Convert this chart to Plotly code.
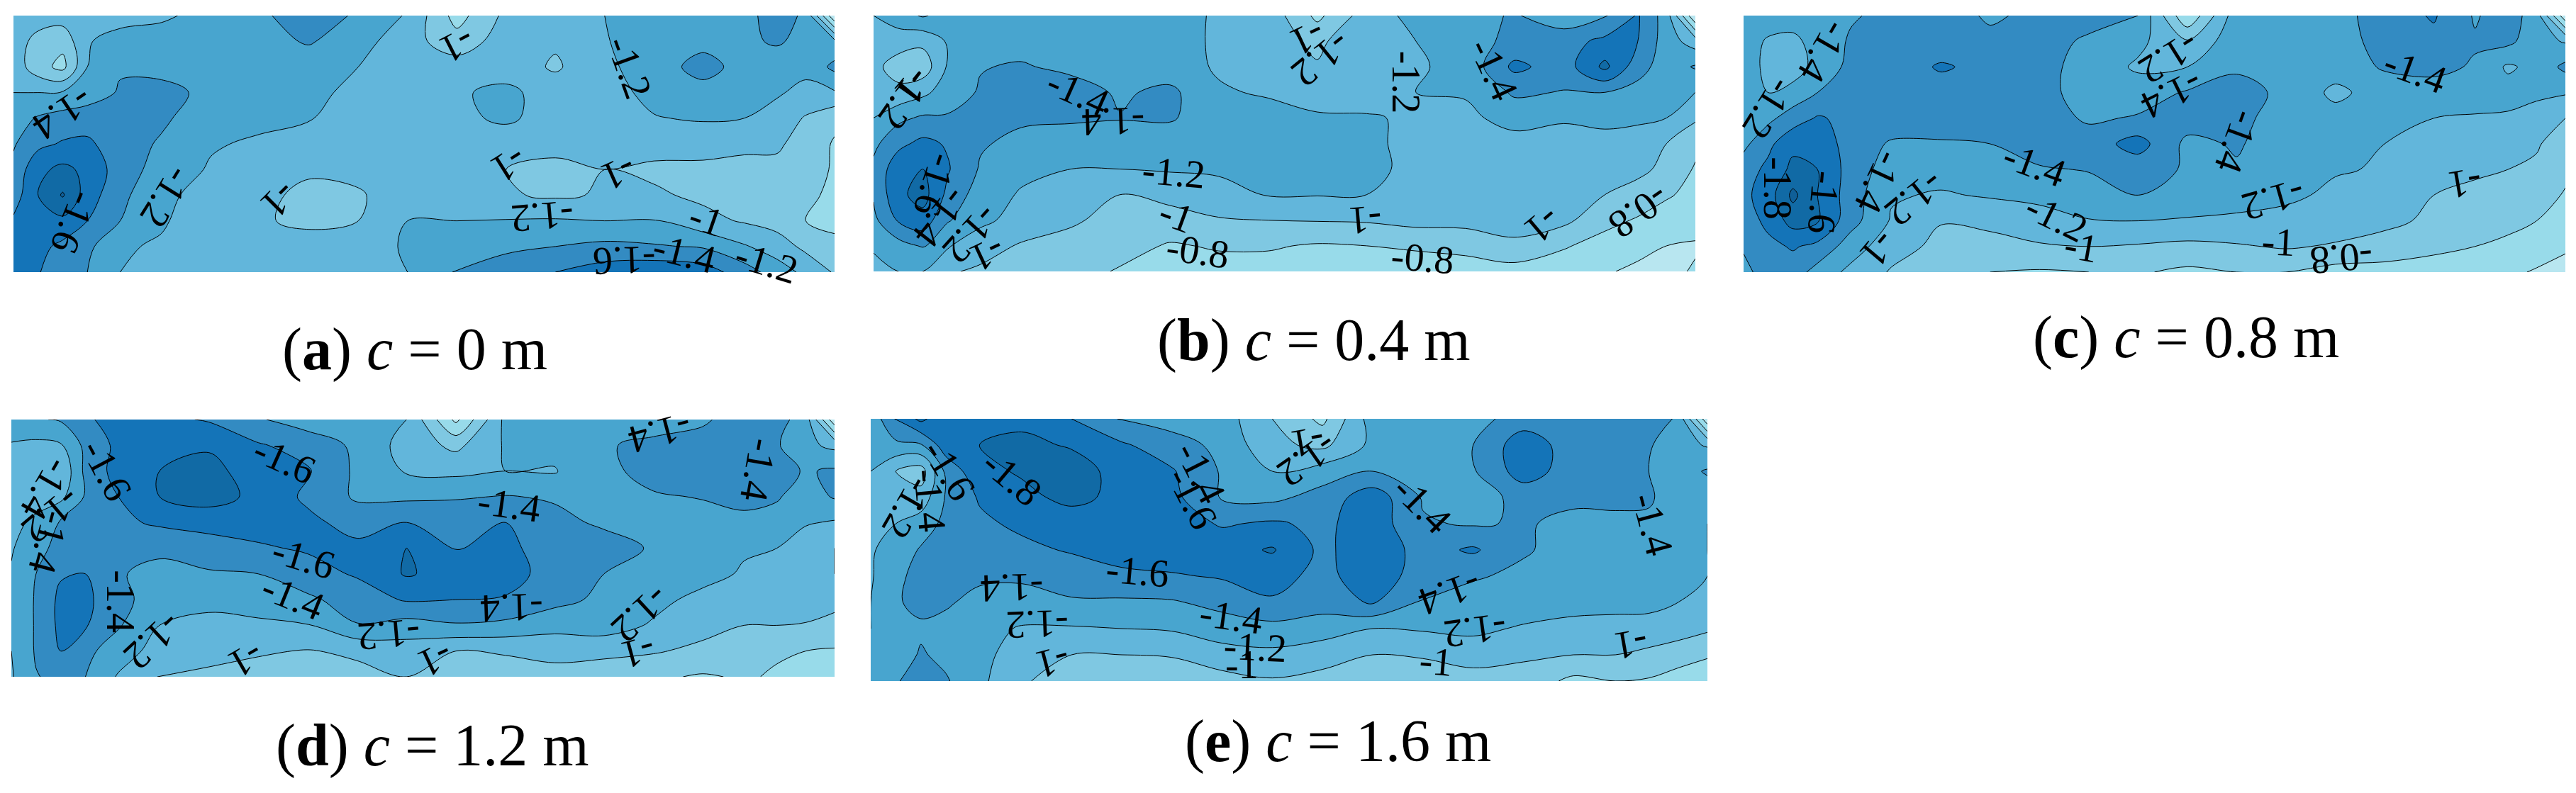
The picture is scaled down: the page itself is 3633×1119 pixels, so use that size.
import plotly.graph_objects as go

WIDTH, HEIGHT = 3633, 1119
X_GRID = [0, 3, 6, 9, 13, 18, 24, 30, 36, 42, 48, 54, 60, 66, 72, 78, 84, 89, 93, 96.5, 100]
Y_GRID = [0, 10, 20, 30, 40, 50, 60, 70, 80, 90, 100]

Z_A = [
 [-1.15,-1.12,-1.1,-1.12,-1.15,-1.17,-1.26,-1.35,-1.55,-1.36,-1.18,-0.72,-1.05,-1.12,-1.2,-1.26,-1.3,-1.33,-1.5,-1.36,-0.42],
 [-1.12,-0.92,-0.86,-1.19,-1.25,-1.28,-1.3,-1.33,-1.42,-1.28,-1.08,-0.88,-1.1,-1.03,-1.19,-1.28,-1.32,-1.34,-1.44,-1.3,-1.25],
 [-1.12,-0.88,-0.74,-1.2,-1.38,-1.35,-1.33,-1.3,-1.28,-1.2,-1.02,-1.1,-1.12,-0.97,-1.17,-1.27,-1.5,-1.3,-1.22,-1.25,-1.45],
 [-1.2,-1.2,-1.22,-1.3,-1.42,-1.45,-1.36,-1.28,-1.22,-1.18,-1.15,-1.18,-1.24,-1.12,-1.13,-1.25,-1.3,-1.3,-1.22,-1.15,-1.18],
 [-1.3,-1.42,-1.48,-1.5,-1.48,-1.43,-1.3,-1.25,-1.21,-1.13,-1.1,-1.15,-1.24,-1.1,-1.08,-1.19,-1.22,-1.2,-1.13,-0.98,-0.85],
 [-1.38,-1.55,-1.62,-1.64,-1.48,-1.38,-1.22,-1.17,-1.12,-1.08,-1.08,-1.08,-1.07,-1.06,-1.07,-1.08,-1.07,-1.03,-1.03,-0.92,-0.78],
 [-1.45,-1.75,-1.85,-1.75,-1.5,-1.32,-1.18,-1.1,-1.03,-1.05,-1.1,-1.09,-1.0,-0.95,-1.0,-0.96,-0.96,-0.96,-0.95,-0.88,-0.78],
 [-1.5,-1.8,-2.02,-1.7,-1.45,-1.25,-1.12,-1.05,-0.95,-0.98,-1.1,-1.1,-1.02,-0.97,-1.02,-1.03,-0.96,-0.93,-0.9,-0.82,-0.78],
 [-1.63,-1.75,-1.75,-1.6,-1.4,-1.22,-1.1,-1.02,-0.96,-1.0,-1.2,-1.2,-1.21,-1.22,-1.2,-1.21,-1.06,-0.98,-0.92,-0.8,-0.75],
 [-1.6,-1.66,-1.55,-1.45,-1.22,-1.18,-1.1,-1.03,-1.08,-1.12,-1.22,-1.25,-1.38,-1.4,-1.45,-1.42,-1.38,-1.22,-1.1,-0.95,-0.85],
 [-1.62,-1.62,-1.42,-1.4,-1.2,-1.19,-1.12,-1.12,-1.2,-1.16,-1.2,-1.42,-1.45,-1.6,-1.7,-1.75,-1.7,-1.5,-1.3,-1.15,-0.98],
]
Z_B = [
 [-1.2,-1.32,-1.42,-1.33,-1.3,-1.3,-1.3,-1.28,-1.26,-1.18,-1.13,-0.75,-1.1,-1.26,-1.33,-1.42,-1.27,-1.38,-1.62,-1.3,-0.4],
 [-1.1,-1.08,-1.05,-1.22,-1.3,-1.32,-1.32,-1.3,-1.28,-1.17,-1.1,-0.95,-1.18,-1.2,-1.32,-1.45,-1.52,-1.65,-1.6,-1.3,-1.1],
 [-1.05,-0.92,-0.88,-1.22,-1.39,-1.42,-1.35,-1.3,-1.28,-1.18,-1.02,-1.02,-1.14,-1.18,-1.25,-1.65,-1.5,-1.85,-1.48,-1.3,-1.42],
 [-1.08,-1.05,-1.15,-1.3,-1.42,-1.48,-1.5,-1.37,-1.45,-1.22,-1.18,-1.1,-1.1,-1.2,-1.22,-1.43,-1.39,-1.4,-1.33,-1.25,-1.2],
 [-1.2,-1.35,-1.43,-1.42,-1.42,-1.43,-1.42,-1.41,-1.42,-1.3,-1.27,-1.23,-1.22,-1.17,-1.15,-1.28,-1.22,-1.27,-1.25,-1.2,-1.03],
 [-1.35,-1.55,-1.65,-1.58,-1.42,-1.35,-1.33,-1.3,-1.3,-1.3,-1.28,-1.28,-1.26,-1.12,-1.12,-1.12,-1.13,-1.11,-1.07,-1.0,-0.85],
 [-1.45,-1.72,-1.8,-1.62,-1.38,-1.25,-1.2,-1.2,-1.22,-1.22,-1.3,-1.3,-1.28,-1.12,-1.1,-1.1,-1.08,-1.08,-1.05,-0.95,-0.78],
 [-1.42,-1.75,-1.88,-1.55,-1.3,-1.18,-1.1,-1.0,-1.05,-1.15,-1.21,-1.21,-1.2,-1.12,-1.09,-1.09,-1.05,-1.0,-0.92,-0.82,-0.75],
 [-1.35,-1.62,-1.72,-1.42,-1.25,-1.12,-1.02,-0.95,-0.93,-0.98,-1.0,-1.01,-1.02,-1.07,-1.07,-1.1,-1.05,-0.86,-0.78,-0.72,-0.68],
 [-1.22,-1.32,-1.42,-1.22,-1.08,-0.98,-0.95,-0.88,-0.78,-0.82,-0.82,-0.78,-0.8,-0.82,-0.85,-0.95,-0.82,-0.72,-0.66,-0.6,-0.58],
 [-1.15,-1.2,-1.2,-1.02,-0.97,-0.92,-0.88,-0.78,-0.72,-0.72,-0.72,-0.72,-0.72,-0.72,-0.72,-0.72,-0.68,-0.62,-0.56,-0.55,-0.62],
]
Z_C = [
 [-1.28,-1.29,-1.3,-1.33,-1.38,-1.45,-1.5,-1.37,-1.45,-1.45,-1.4,-0.62,-1.32,-1.3,-1.32,-1.5,-1.62,-1.38,-1.5,-1.3,-0.45],
 [-1.28,-1.18,-1.15,-1.28,-1.42,-1.45,-1.5,-1.45,-1.45,-1.38,-1.25,-1.02,-1.33,-1.36,-1.3,-1.48,-1.55,-1.42,-1.45,-1.28,-1.18],
 [-1.26,-1.17,-1.1,-1.27,-1.45,-1.5,-1.62,-1.55,-1.47,-1.32,-1.17,-1.2,-1.38,-1.4,-1.3,-1.42,-1.45,-1.38,-1.17,-1.26,-1.45],
 [-1.25,-1.2,-1.27,-1.4,-1.48,-1.5,-1.52,-1.5,-1.48,-1.3,-1.3,-1.42,-1.45,-1.37,-1.15,-1.3,-1.32,-1.3,-1.28,-1.25,-1.22],
 [-1.22,-1.35,-1.5,-1.62,-1.55,-1.5,-1.5,-1.5,-1.5,-1.37,-1.42,-1.5,-1.45,-1.32,-1.28,-1.28,-1.2,-1.18,-1.17,-1.1,-1.0],
 [-1.35,-1.55,-1.75,-1.75,-1.5,-1.38,-1.38,-1.4,-1.5,-1.5,-1.68,-1.35,-1.42,-1.3,-1.28,-1.2,-1.12,-1.1,-1.1,-1.03,-0.85],
 [-1.5,-1.65,-1.85,-1.8,-1.52,-1.3,-1.28,-1.3,-1.38,-1.41,-1.48,-1.38,-1.38,-1.28,-1.22,-1.18,-1.08,-1.02,-1.0,-0.95,-0.85],
 [-1.55,-1.7,-2.05,-1.8,-1.5,-1.22,-1.18,-1.22,-1.25,-1.32,-1.4,-1.33,-1.29,-1.25,-1.15,-1.12,-1.0,-0.97,-0.95,-0.9,-0.78],
 [-1.5,-1.65,-1.88,-1.82,-1.48,-1.18,-1.01,-1.05,-1.12,-1.19,-1.2,-1.18,-1.16,-1.12,-1.1,-1.05,-0.96,-0.92,-0.85,-0.8,-0.72],
 [-1.42,-1.55,-1.62,-1.55,-1.3,-1.08,-0.95,-0.93,-0.98,-1.0,-0.98,-0.95,-0.98,-1.02,-0.98,-0.92,-0.85,-0.8,-0.76,-0.7,-0.62],
 [-1.35,-1.48,-1.5,-1.32,-1.15,-0.98,-0.9,-0.8,-0.78,-0.8,-0.82,-0.76,-0.8,-0.8,-0.72,-0.72,-0.7,-0.68,-0.64,-0.58,-0.55],
]
Z_D = [
 [-1.35,-1.38,-1.42,-1.58,-1.65,-1.65,-1.58,-1.42,-1.3,-1.38,-1.2,-0.55,-1.25,-1.33,-1.33,-1.3,-1.37,-1.5,-1.48,-1.3,-0.45],
 [-1.18,-1.15,-1.18,-1.45,-1.65,-1.75,-1.78,-1.62,-1.52,-1.36,-1.12,-0.95,-1.22,-1.3,-1.38,-1.45,-1.48,-1.48,-1.42,-1.25,-1.15],
 [-1.15,-1.05,-1.02,-1.45,-1.68,-1.8,-1.85,-1.72,-1.62,-1.36,-1.18,-1.15,-1.2,-1.18,-1.35,-1.47,-1.5,-1.5,-1.48,-1.38,-1.43],
 [-1.05,-1.1,-1.15,-1.42,-1.6,-1.8,-1.88,-1.75,-1.56,-1.37,-1.36,-1.38,-1.41,-1.38,-1.32,-1.38,-1.41,-1.48,-1.42,-1.3,-1.42],
 [-1.13,-1.25,-1.42,-1.45,-1.56,-1.63,-1.68,-1.67,-1.65,-1.52,-1.6,-1.55,-1.6,-1.45,-1.37,-1.38,-1.33,-1.33,-1.32,-1.22,-1.18],
 [-1.18,-1.35,-1.45,-1.45,-1.43,-1.45,-1.5,-1.58,-1.62,-1.65,-1.8,-1.59,-1.65,-1.5,-1.48,-1.38,-1.3,-1.22,-1.2,-1.08,-1.0],
 [-1.22,-1.4,-1.58,-1.6,-1.42,-1.33,-1.38,-1.4,-1.53,-1.62,-1.82,-1.72,-1.7,-1.5,-1.4,-1.33,-1.26,-1.18,-1.14,-1.1,-1.0],
 [-1.22,-1.42,-1.65,-1.65,-1.45,-1.32,-1.25,-1.3,-1.36,-1.5,-1.62,-1.6,-1.58,-1.47,-1.35,-1.25,-1.15,-1.12,-1.1,-1.08,-1.05],
 [-1.22,-1.42,-1.65,-1.62,-1.42,-1.2,-1.15,-1.16,-1.19,-1.39,-1.32,-1.38,-1.35,-1.25,-1.28,-1.18,-1.07,-1.0,-1.0,-0.99,-0.95],
 [-1.2,-1.42,-1.6,-1.45,-1.3,-1.12,-1.08,-1.02,-0.99,-1.03,-1.1,-1.0,-1.02,-1.1,-1.08,-1.02,-0.95,-0.93,-0.82,-0.8,-0.78],
 [-1.18,-1.39,-1.45,-1.4,-1.18,-0.99,-0.95,-0.93,-0.92,-0.95,-1.0,-0.92,-0.9,-0.88,-0.82,-0.83,-0.78,-0.82,-0.78,-0.72,-0.65],
]
Z_E = [
 [-1.25,-1.62,-1.85,-1.65,-1.78,-1.75,-1.6,-1.38,-1.32,-1.3,-1.0,-0.75,-1.3,-1.38,-1.32,-1.5,-1.45,-1.47,-1.6,-1.35,-0.45],
 [-1.3,-1.35,-1.38,-1.72,-1.8,-1.85,-1.78,-1.63,-1.48,-1.35,-1.05,-0.95,-1.25,-1.3,-1.4,-1.72,-1.5,-1.45,-1.42,-1.28,-1.18],
 [-1.2,-1.0,-0.9,-1.45,-1.75,-1.82,-1.9,-1.72,-1.62,-1.38,-1.2,-1.3,-1.4,-1.3,-1.38,-1.7,-1.5,-1.47,-1.4,-1.32,-1.42],
 [-1.15,-1.08,-1.08,-1.42,-1.62,-1.75,-1.85,-1.75,-1.66,-1.38,-1.35,-1.48,-1.72,-1.38,-1.3,-1.47,-1.44,-1.47,-1.42,-1.32,-1.3],
 [-1.15,-1.2,-1.3,-1.45,-1.56,-1.64,-1.7,-1.72,-1.7,-1.58,-1.63,-1.55,-1.72,-1.42,-1.38,-1.42,-1.35,-1.33,-1.37,-1.32,-1.2],
 [-1.18,-1.28,-1.42,-1.45,-1.48,-1.55,-1.62,-1.7,-1.72,-1.72,-1.82,-1.55,-1.74,-1.52,-1.63,-1.42,-1.33,-1.32,-1.38,-1.3,-1.2],
 [-1.18,-1.35,-1.47,-1.45,-1.43,-1.42,-1.48,-1.55,-1.58,-1.62,-1.66,-1.55,-1.7,-1.52,-1.42,-1.36,-1.3,-1.38,-1.38,-1.3,-1.2],
 [-1.2,-1.38,-1.45,-1.42,-1.35,-1.35,-1.38,-1.37,-1.38,-1.46,-1.58,-1.5,-1.62,-1.38,-1.32,-1.3,-1.28,-1.26,-1.25,-1.2,-1.12],
 [-1.2,-1.25,-1.37,-1.35,-1.28,-1.18,-1.18,-1.2,-1.22,-1.3,-1.33,-1.28,-1.2,-1.22,-1.24,-1.18,-1.13,-1.13,-1.13,-1.1,-1.03],
 [-1.22,-1.3,-1.42,-1.35,-1.25,-1.12,-1.0,-1.0,-1.02,-1.12,-1.15,-1.1,-1.0,-1.03,-1.1,-1.03,-1.0,-1.0,-0.95,-0.88,-0.82],
 [-1.22,-1.38,-1.5,-1.42,-1.25,-1.02,-0.92,-0.82,-0.82,-0.92,-0.98,-0.92,-0.82,-0.82,-0.9,-0.92,-0.75,-0.8,-0.78,-0.72,-0.68],
]

LEVEL_START, LEVEL_END, LEVEL_STEP = -2.2, -0.2, 0.2
BAND_COLORS = ["#0f5f98", "#116aa5", "#1474b8", "#338bc2", "#48a5cf",
               "#62b6db", "#7fc8e2", "#98dbea", "#b8e6f0", "#d0eff5"]

# left, right, top, bottom of each map in image pixels
PANELS = {
    "a": (19, 1177, 22, 384),
    "b": (1232, 2391, 22, 383),
    "c": (2459, 3618, 22, 384),
    "d": (16, 1177, 592, 955),
    "e": (1228, 2408, 591, 961),
}
GRIDS = {"a": Z_A, "b": Z_B, "c": Z_C, "d": Z_D, "e": Z_E}

# read-off positions (crop units), text, rotation
READ_FRAME = {
    "a": (25, 1524, 62, 1075), "b": (27, 1528, 62, 1072), "c": (48, 1549, 62, 1075),
    "d": (21, 1524, 90, 1107), "e": (22, 1550, 87, 1124),
}
LABELS = {
 "a": [(835,180,"-1",153),(1150,265,"-1.2",70),(115,450,"-1.4",146),(135,880,"-1.6",112),
       (305,780,"-1.2",122),(510,790,"-1",135),(930,650,"-1",148),(1130,685,"-1",156),
       (990,855,"-1.2",175),(1290,865,"-1",19),(1250,1000,"-1.4",14),(1140,1030,"-1.6",178),
       (1400,1035,"-1.2",17)],
 "b": [(820,150,"-1",155),(845,235,"-1.2",141),(1000,325,"-1.2",90),(1160,275,"-1.4",65),
       (85,395,"-1.2",125),(100,340,"-1",130),(400,365,"-1.4",24),(465,480,"-1.4",178),
       (575,680,"-1.2",5),(140,730,"-1.6",108),(150,860,"-1.4",128),(205,925,"-1.2",132),
       (235,1005,"-1",155),(580,850,"-1",20),(620,990,"-0.8",8),(925,870,"-1",175),
       (1030,1020,"-0.8",5),(1250,890,"-1",140),(1425,835,"-0.8",145)],
 "c": [(195,205,"-1.4",120),(95,430,"-1.2",122),(825,230,"-1.2",148),(830,375,"-1.4",154),
       (1275,280,"-1.4",20),(950,560,"-1.4",110),(580,650,"-1.4",20),(110,745,"-1.8",90),
       (195,800,"-1.6",95),(295,720,"-1.4",115),(360,785,"-1.2",141),(620,860,"-1.2",26),
       (665,975,"-1",10),(1015,790,"-1.2",164),(1025,955,"-1",3),(1140,1020,"-0.8",175),
       (1365,725,"-1",170),(295,985,"-1",130)],
 "d": [(520,250,"-1.6",24),(195,290,"-1.6",62),(1205,145,"-1.4",165),(1385,290,"-1.4",100),
       (930,425,"-1.4",8),(85,365,"-1.4",120),(95,470,"-1.2",140),(90,575,"-1.4",105),
       (555,635,"-1.6",17),(535,790,"-1.4",22),(220,810,"-1.4",90),(280,965,"-1.2",137),
       (710,940,"-1.2",175),(935,835,"-1.4",178),(1170,860,"-1.2",137),(450,1040,"-1",150),
       (795,1040,"-1",155),(1165,1010,"-1",165)],
 "e": [(820,250,"-1.2",145),(820,180,"-1",170),(625,300,"-1.4",63),(610,400,"-1.6",63),
       (280,320,"-1.8",40),(165,290,"-1.6",58),(130,410,"-1.4",85),(90,440,"-1.2",120),
       (1030,425,"-1.4",45),(1450,505,"-1.4",75),(280,755,"-1.4",178),(510,690,"-1.6",5),
       (1080,775,"-1.4",160),(325,900,"-1.2",178),(680,870,"-1.4",8),(1125,925,"-1.2",172),
       (725,990,"-1.2",3),(355,1050,"-1",165),(700,1060,"-1",0),(1055,1045,"-1",5),
       (1410,980,"-1",170)],
}

CAPTION_TEXT = {
    "a": "(<b>a</b>) <i>c</i> = 0 m", "b": "(<b>b</b>) <i>c</i> = 0.4 m",
    "c": "(<b>c</b>) <i>c</i> = 0.8 m", "d": "(<b>d</b>) <i>c</i> = 1.2 m",
    "e": "(<b>e</b>) <i>c</i> = 1.6 m",
}
# caption centre in image pixels
CAPTION_POS = {"a": (585, 493), "b": (1853, 480), "c": (3083, 476), "d": (610, 1052), "e": (1887, 1046)}

FONT = "Liberation Serif"
n = len(BAND_COLORS)
colorscale = []
for i, col in enumerate(BAND_COLORS):
    colorscale += [[i / n, col], [(i + 1) / n, col]]

fig = go.Figure()
layout = {}
annotations = []
for idx, key in enumerate(PANELS, start=1):
    left, right, top, bottom = PANELS[key]
    sfx = "" if idx == 1 else str(idx)
    layout["xaxis" + sfx] = dict(domain=[left / WIDTH, right / WIDTH], range=[0, 100], visible=False,
                                 fixedrange=True, anchor="y" + sfx)
    layout["yaxis" + sfx] = dict(domain=[1 - bottom / HEIGHT, 1 - top / HEIGHT], range=[100, 0], visible=False,
                                 fixedrange=True, anchor="x" + sfx)
    fig.add_trace(go.Contour(
        x=X_GRID, y=Y_GRID, z=GRIDS[key], xaxis="x" + sfx, yaxis="y" + sfx,
        zmin=LEVEL_START, zmax=LEVEL_END, autocontour=False,
        contours=dict(start=LEVEL_START, end=LEVEL_END, size=LEVEL_STEP, coloring="fill", showlines=True),
        colorscale=colorscale, showscale=False, hoverinfo="skip",
        line=dict(color="black", width=1, smoothing=1.0),
    ))
    fx0, fx1, fy0, fy1 = READ_FRAME[key]
    for zx, zy, text, angle in LABELS[key]:
        annotations.append(dict(
            x=(zx - fx0) / (fx1 - fx0) * 100, y=(zy - fy0) / (fy1 - fy0) * 100,
            xref="x" + sfx, yref="y" + sfx, text=text, textangle=angle, showarrow=False,
            xanchor="center", yanchor="middle", font=dict(family=FONT, size=56, color="black"),
        ))
    cx, cy = CAPTION_POS[key]
    annotations.append(dict(
        x=cx / WIDTH, y=1 - cy / HEIGHT, xref="paper", yref="paper", text=CAPTION_TEXT[key],
        showarrow=False, xanchor="center", yanchor="middle",
        font=dict(family=FONT, size=84, color="black"),
    ))

fig.update_layout(width=WIDTH, height=HEIGHT, margin=dict(l=0, r=0, t=0, b=0),
                  paper_bgcolor="white", plot_bgcolor="white", showlegend=False,
                  annotations=annotations, **layout)
fig.write_html("out.html", config={"displayModeBar": False},
               post_script="document.body.style.margin='0';document.body.style.overflow='hidden';window.dispatchEvent(new Event('resize'));")
